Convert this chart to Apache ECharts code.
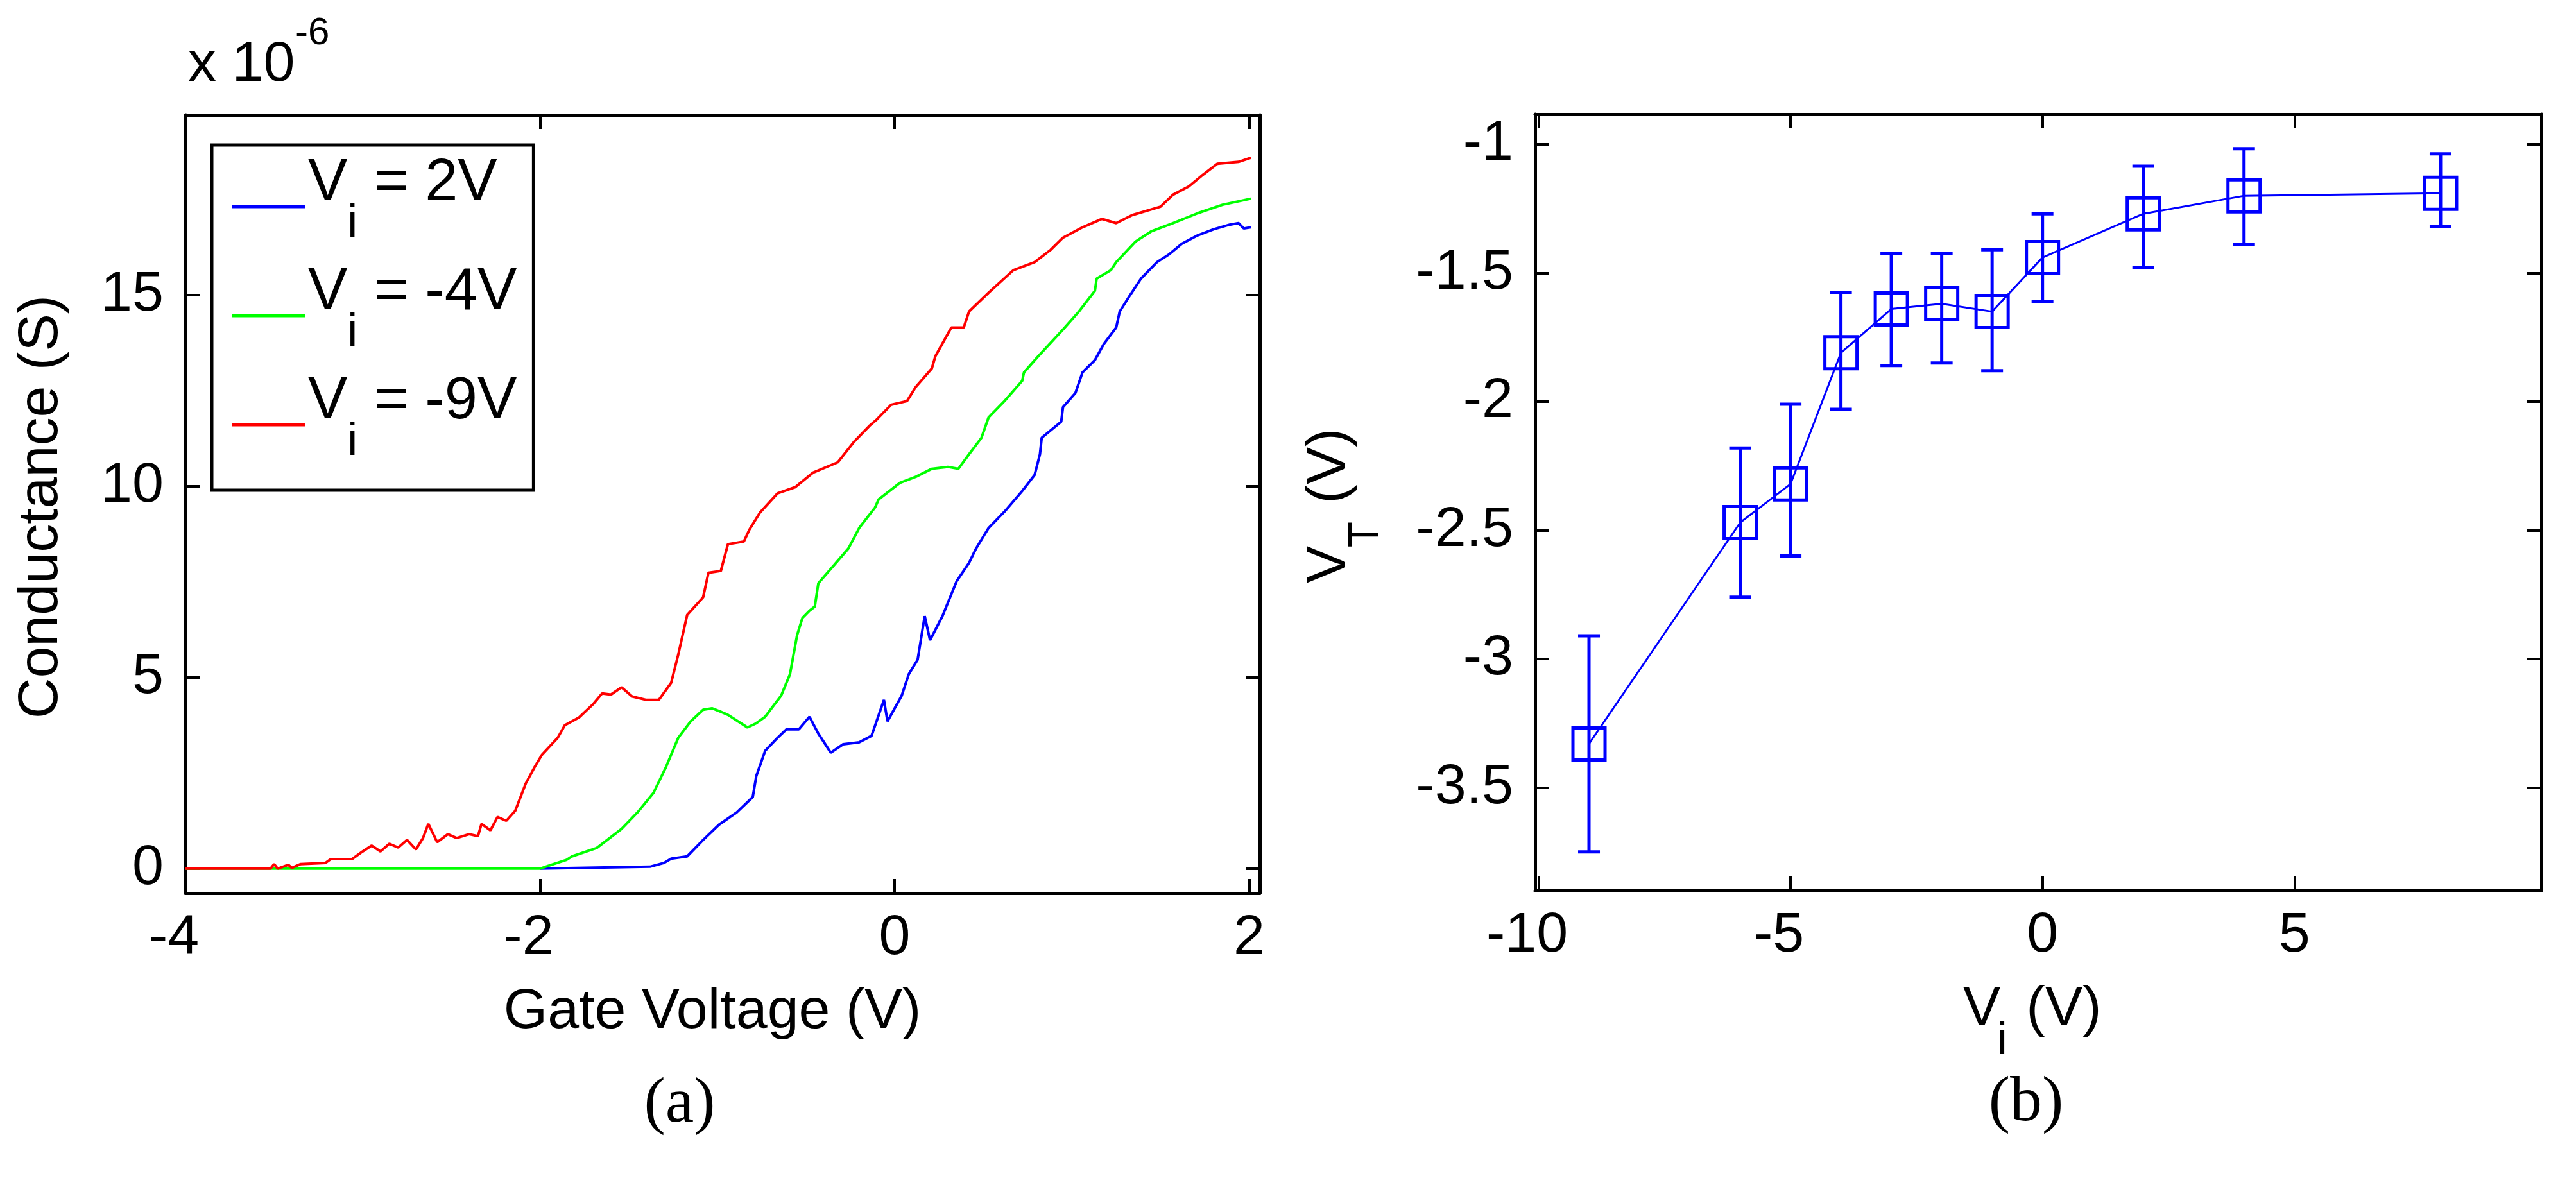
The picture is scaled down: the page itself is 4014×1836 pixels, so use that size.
<!DOCTYPE html>
<html>
<head>
<meta charset="utf-8">
<script src="https://cdn.jsdelivr.net/npm/echarts@6/dist/echarts.min.js"></script>
<style>
  html, body { margin: 0; padding: 0; background: #fff; }
  #chart { width: 4014px; height: 1836px; }
</style>
</head>
<body>
<div id="chart"></div>
<script>
// (a) conductance vs gate voltage, [gate V, conductance in units of 1e-6 S]
const curveVi2 = [
  [-2.0, 0], [-1.38, 0.05], [-1.30, 0.15], [-1.26, 0.26], [-1.17, 0.32], [-1.08, 0.75],
  [-0.99, 1.15], [-0.89, 1.47], [-0.80, 1.87], [-0.78, 2.42], [-0.73, 3.08], [-0.66, 3.42],
  [-0.61, 3.64], [-0.54, 3.64], [-0.48, 3.97], [-0.43, 3.53], [-0.36, 3.03], [-0.29, 3.25],
  [-0.20, 3.30], [-0.13, 3.47], [-0.06, 4.41], [-0.04, 3.85], [0.04, 4.52], [0.08, 5.08],
  [0.13, 5.46], [0.17, 6.6], [0.20, 5.97], [0.27, 6.6], [0.35, 7.51], [0.42, 7.99],
  [0.46, 8.37], [0.53, 8.90], [0.62, 9.33], [0.72, 9.87], [0.79, 10.29], [0.82, 10.83],
  [0.83, 11.26], [0.94, 11.68], [0.95, 12.06], [1.02, 12.43], [1.06, 12.97], [1.13, 13.29],
  [1.18, 13.71], [1.25, 14.14], [1.27, 14.56], [1.33, 15.0], [1.39, 15.42], [1.48, 15.85],
  [1.55, 16.06], [1.62, 16.33], [1.71, 16.55], [1.80, 16.71], [1.89, 16.83], [1.94, 16.87],
  [1.97, 16.73], [2.01, 16.76]
];
const curveViMinus4 = [
  [-4.0, 0], [-2.0, 0], [-1.95, 0.08], [-1.85, 0.23], [-1.82, 0.32], [-1.68, 0.54],
  [-1.54, 1.04], [-1.45, 1.47], [-1.36, 1.98], [-1.29, 2.65], [-1.22, 3.42], [-1.15, 3.85],
  [-1.08, 4.15], [-1.03, 4.19], [-0.98, 4.10], [-0.94, 4.02], [-0.83, 3.69], [-0.78, 3.80],
  [-0.73, 3.97], [-0.64, 4.52], [-0.59, 5.08], [-0.55, 6.10], [-0.52, 6.55], [-0.48, 6.74],
  [-0.45, 6.85], [-0.43, 7.46], [-0.34, 7.94], [-0.26, 8.37], [-0.20, 8.90], [-0.11, 9.44],
  [-0.09, 9.65], [0.03, 10.08], [0.12, 10.24], [0.21, 10.45], [0.30, 10.50], [0.36, 10.45],
  [0.42, 10.83], [0.49, 11.26], [0.53, 11.79], [0.62, 12.22], [0.72, 12.75], [0.73, 12.97],
  [0.81, 13.39], [0.95, 14.09], [1.04, 14.56], [1.13, 15.10], [1.14, 15.42], [1.22, 15.64],
  [1.25, 15.85], [1.36, 16.39], [1.45, 16.66], [1.57, 16.87], [1.71, 17.13], [1.85, 17.35],
  [2.01, 17.51]
];
const curveViMinus9 = [
  [-4.0, 0], [-3.52, 0], [-3.50, 0.12], [-3.48, 0], [-3.42, 0.10], [-3.40, 0.02],
  [-3.35, 0.12], [-3.21, 0.15], [-3.18, 0.25], [-3.06, 0.25], [-3.00, 0.45], [-2.95, 0.60],
  [-2.90, 0.45], [-2.85, 0.65], [-2.80, 0.55], [-2.75, 0.75], [-2.70, 0.50], [-2.66, 0.80],
  [-2.63, 1.17], [-2.58, 0.69], [-2.52, 0.90], [-2.47, 0.80], [-2.40, 0.90], [-2.35, 0.85],
  [-2.33, 1.17], [-2.28, 1.00], [-2.24, 1.35], [-2.19, 1.25], [-2.14, 1.51], [-2.08, 2.23],
  [-2.03, 2.66], [-1.99, 2.97], [-1.90, 3.42], [-1.86, 3.75], [-1.78, 3.95], [-1.70, 4.30],
  [-1.65, 4.58], [-1.60, 4.55], [-1.54, 4.74], [-1.48, 4.50], [-1.40, 4.41], [-1.33, 4.41],
  [-1.26, 4.86], [-1.22, 5.60], [-1.17, 6.63], [-1.08, 7.09], [-1.05, 7.73], [-0.98, 7.78],
  [-0.94, 8.48], [-0.85, 8.55], [-0.82, 8.85], [-0.76, 9.30], [-0.66, 9.81], [-0.56, 9.97],
  [-0.46, 10.35], [-0.32, 10.62], [-0.23, 11.15], [-0.14, 11.58], [-0.10, 11.74], [-0.02, 12.12],
  [0.07, 12.22], [0.12, 12.59], [0.21, 13.07], [0.23, 13.39], [0.32, 14.14], [0.39, 14.14],
  [0.42, 14.56], [0.53, 15.05], [0.67, 15.64], [0.79, 15.85], [0.88, 16.17], [0.95, 16.49],
  [1.06, 16.76], [1.17, 16.98], [1.25, 16.87], [1.34, 17.08], [1.50, 17.30], [1.57, 17.61],
  [1.66, 17.83], [1.73, 18.10], [1.82, 18.42], [1.94, 18.47], [2.01, 18.58]
];
const legendLabels = ['2V', '-4V', '-9V'];
const curveColors = ['#0000ff', '#00ff00', '#ff0000'];

// (b) threshold voltage vs Vi, with error bar ends
const vi = [-9, -6, -5, -4, -3, -2, -1, 0, 2, 4, 7.9];
const vt = [-3.33, -2.47, -2.32, -1.81, -1.64, -1.62, -1.65, -1.44, -1.27, -1.20, -1.19];
const vtLow = [-3.75, -2.76, -2.60, -2.03, -1.86, -1.85, -1.88, -1.61, -1.48, -1.39, -1.32];
const vtHigh = [-2.91, -2.18, -2.01, -1.575, -1.425, -1.425, -1.41, -1.27, -1.085, -1.017, -1.037];

const ticksAx = [-4, -2, 0, 2];
const ticksAy = [0, 5, 10, 15];
const ticksBx = [-10, -5, 0, 5];
const ticksBy = [-3.5, -3, -2.5, -2, -1.5, -1];

const FONT = '"Liberation Sans", Arial, sans-serif';
const SERIF = '"Liberation Serif", "Times New Roman", serif';
const SIZE = 88;

function frameAxis(gridIndex, position, min, max, ticks, labels, margin, shiftNeg) {
  const label = labels ? {
    show: true, customValues: ticks, margin: margin,
    color: '#000', fontFamily: FONT, fontSize: SIZE
  } : { show: false };
  if (labels && shiftNeg) {
    label.formatter = v => v < 0 ? '{neg|' + v + '}' : String(v);
    label.rich = { neg: { padding: [0, 36, 0, 0], color: '#000', fontFamily: FONT, fontSize: SIZE } };
  }
  return {
    type: 'value', gridIndex: gridIndex, position: position, min: min, max: max,
    axisLine: { show: true, onZero: false, lineStyle: { color: '#000', width: 5 } },
    axisTick: { show: true, inside: true, length: 22, customValues: ticks, lineStyle: { color: '#000', width: 4 } },
    axisLabel: label,
    splitLine: { show: false }
  };
}

function text(x, y, str, size, extra) {
  return Object.assign({
    type: 'text', x: x, y: y, silent: true,
    style: { text: str, fontFamily: FONT, fontSize: size, fill: '#000', align: 'center', verticalAlign: 'middle' }
  }, extra || {});
}

const chart = echarts.init(document.getElementById('chart'), null, { renderer: 'canvas' });

chart.setOption({
  animation: false,
  backgroundColor: '#fff',
  grid: [
    { left: 289, top: 179, width: 1674, height: 1213, outerBoundsMode: 'none' },
    { left: 2392, top: 178, width: 1568, height: 1210, outerBoundsMode: 'none' }
  ],
  xAxis: [
    frameAxis(0, 'bottom', -4, 2.06, ticksAx, true, 27, true),
    frameAxis(0, 'top', -4, 2.06, ticksAx, false),
    frameAxis(1, 'bottom', -10.07, 9.9, ticksBx, true, 27, true),
    frameAxis(1, 'top', -10.07, 9.9, ticksBx, false)
  ],
  yAxis: [
    frameAxis(0, 'left', -0.64, 19.7, ticksAy, true, 34, false),
    frameAxis(0, 'right', -0.64, 19.7, ticksAy, false),
    frameAxis(1, 'left', -3.90, -0.883, ticksBy, true, 34, false),
    frameAxis(1, 'right', -3.90, -0.883, ticksBy, false)
  ],
  legend: {
    left: 330, top: 226, orient: 'vertical',
    icon: 'rect', itemWidth: 113, itemHeight: 5, itemGap: 8,
    padding: [15, 26, 21, 32],
    borderColor: '#000', borderWidth: 5, backgroundColor: '#fff',
    selectedMode: false,
    formatter: name => '{h|\u200b}{v|V}{s|i}{v| = ' + name.split('= ')[1] + '}',
    textStyle: {
      color: '#000', fontFamily: FONT, fontSize: 92,
      rich: {
        h: { fontSize: 10, lineHeight: 162 },
        v: { fontFamily: FONT, fontSize: 92, lineHeight: 92, verticalAlign: 'top', color: '#000' },
        s: { fontFamily: FONT, fontSize: 72, lineHeight: 136, verticalAlign: 'bottom', padding: [0, 0, 18, 0], color: '#000' }
      }
    }
  },
  graphic: [
    text(293, 102, 'x 10', SIZE, { style: { text: 'x 10', fontFamily: FONT, fontSize: SIZE, fill: '#000', align: 'left', verticalAlign: 'middle' } }),
    text(460, 52, '-6', 60, { style: { text: '-6', fontFamily: FONT, fontSize: 60, fill: '#000', align: 'left', verticalAlign: 'middle' } }),
    text(65, 790, 'Conductance (S)', SIZE, { rotation: Math.PI / 2 }),
    text(1110, 1578, 'Gate Voltage (V)', SIZE),
    text(1059, 1722, '(a)', 100, { style: { text: '(a)', fontFamily: SERIF, fontSize: 100, fill: '#000', align: 'center', verticalAlign: 'middle' } }),
    text(2072, 880, 'V', SIZE, { rotation: Math.PI / 2 }),
    text(2129, 833, 'T', 66, { rotation: Math.PI / 2 }),
    text(2072, 726, '(V)', SIZE, { rotation: Math.PI / 2 }),
    text(3088, 1574, 'V', SIZE),
    text(3120, 1624, 'i', 70),
    text(3216, 1574, '(V)', SIZE),
    text(3157, 1720, '(b)', 100, { style: { text: '(b)', fontFamily: SERIF, fontSize: 100, fill: '#000', align: 'center', verticalAlign: 'middle' } })
  ],
  series: [
    ...[curveVi2, curveViMinus4, curveViMinus9].map((curve, i) => ({
      name: 'Vi = ' + legendLabels[i],
      type: 'line', xAxisIndex: 0, yAxisIndex: 0,
      data: curve, showSymbol: false, symbol: 'none',
      color: curveColors[i],
      lineStyle: { color: curveColors[i], width: 4 }
    })),
    {
      type: 'line', xAxisIndex: 2, yAxisIndex: 2,
      data: vi.map((x, i) => [x, vt[i]]),
      symbol: 'rect', symbolSize: 50,
      itemStyle: { color: 'rgba(0,0,0,0)', borderColor: '#0000ff', borderWidth: 5 },
      lineStyle: { color: '#0000ff', width: 3 }
    },
    {
      type: 'custom', xAxisIndex: 2, yAxisIndex: 2,
      data: vi.map((x, i) => [x, vtLow[i], vtHigh[i]]),
      renderItem: (params, api) => {
        const lo = api.coord([api.value(0), api.value(1)]);
        const hi = api.coord([api.value(0), api.value(2)]);
        const w = 17;
        const style = { stroke: '#0000ff', lineWidth: 5 };
        return {
          type: 'group',
          children: [
            { type: 'line', shape: { x1: lo[0], y1: lo[1], x2: hi[0], y2: hi[1] }, style: style },
            { type: 'line', shape: { x1: lo[0] - w, y1: lo[1], x2: lo[0] + w, y2: lo[1] }, style: style },
            { type: 'line', shape: { x1: hi[0] - w, y1: hi[1], x2: hi[0] + w, y2: hi[1] }, style: style }
          ]
        };
      }
    }
  ]
});
</script>
</body>
</html>
